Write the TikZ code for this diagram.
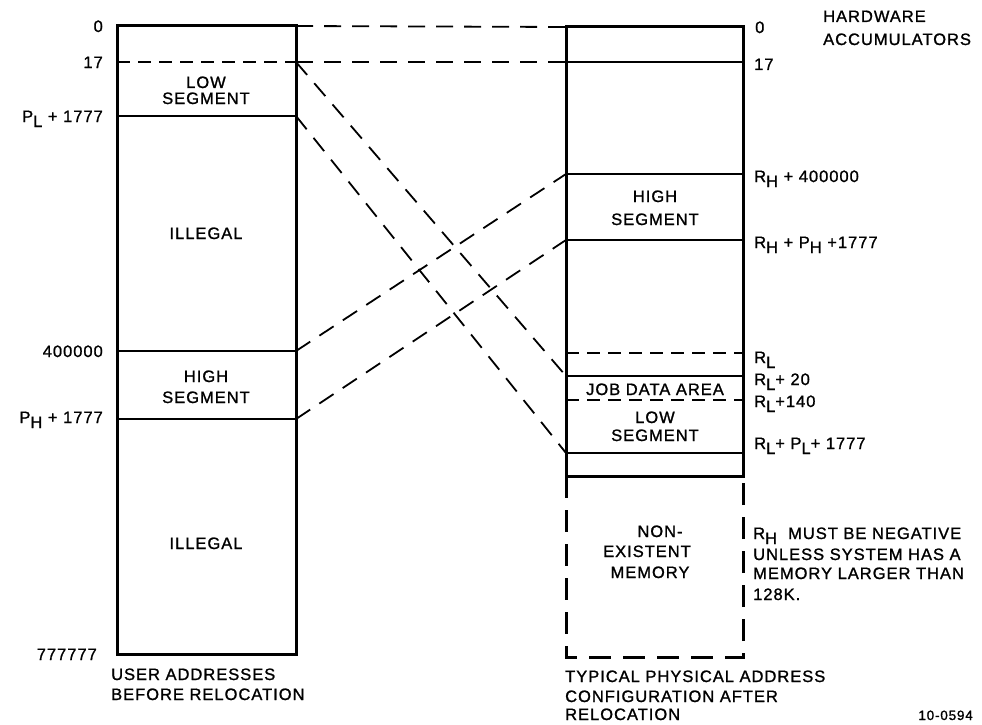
\documentclass[tikz,border=0pt]{standalone}
\usepackage{fontspec}
\setmainfont[LetterSpace=6, FakeBold=1.2]{Liberation Sans}
\newcommand\lowsub[1]{\raisebox{-5pt}{#1}}
\begin{document}
\begin{tikzpicture}[x=1pt,y=-1pt,
  box/.style={line width=3pt},
  sep/.style={line width=2.6pt},
  sepd/.style={line width=2.6pt, dash pattern=on 13pt off 8pt},
  dbox/.style={line width=3pt, dash pattern=on 22pt off 12pt},
  conn/.style={line width=1.8pt, dash pattern=on 17pt off 11pt},
  lbl/.style={inner sep=0pt, font=\fontsize{16.5}{18}\selectfont},
  lr/.style={lbl, anchor=base east},
  ll/.style={lbl, anchor=base west},
  lc/.style={lbl, anchor=base},
]
\useasboundingbox (0,0) rectangle (982,725);

% left column
\draw[box] (117,26) rectangle (296,654);
\draw[sepd] (117,62) -- (296,62);
\draw[sep] (117,116) -- (296,116);
\draw[sep] (117,351) -- (296,351);
\draw[sep] (117,419) -- (296,419);

% right column
\draw[box] (566,27) rectangle (743,476);
\draw[sep] (566,62) -- (743,62);
\draw[sep] (566,174) -- (743,174);
\draw[sep] (566,240) -- (743,240);
\draw[sepd] (566,353) -- (743,353);
\draw[sep] (566,376) -- (743,376);
\draw[sepd] (566,400) -- (743,400);
\draw[sep] (566,453) -- (743,453);
\draw[dbox] (566,476) -- (566,657) -- (743,657) -- (743,476);

% connector end points
\coordinate (l0) at (296,26);
\coordinate (l17) at (296,62);
\coordinate (lPL) at (296,116);
\coordinate (l400) at (296,351);
\coordinate (lPH) at (296,419);
\coordinate (r0) at (566,27);
\coordinate (r17) at (566,62);
\coordinate (rH4) at (566,174);
\coordinate (rHP) at (566,240);
\coordinate (rL20) at (566,376);
\coordinate (rLP) at (566,453);

\draw[conn] (l0) -- (r0);
\draw[conn] (l17) -- (r17);
\draw[conn] (l17) -- (rL20);
\draw[conn] (lPL) -- (rLP);
\draw[conn] (l400) -- (rH4);
\draw[conn] (lPH) -- (rHP);

% left address labels
\node[lr] (a1) at (103,32) {0};
\node[lr] (a2) at (103,68) {17};
\node[lr] (a3) at (103,122) {P\lowsub{L} + 1777};
\node[lr] (a4) at (103,357) {400000};
\node[lr] (a5) at (103,423) {P\lowsub{H} + 1777};
\node[lr] (a6) at (97,660) {777777};

% right address labels
\node[ll] (b1) at (755,33) {0};
\node[ll] (b2) at (754,70) {17};
\node[ll] (b3) at (754,182) {R\lowsub{H} + 400000};
\node[ll] (b4) at (754,248) {R\lowsub{H} + P\lowsub{H} +1777};
\node[ll] (b5) at (754,363) {R\lowsub{L}};
\node[ll] (b6) at (754,385) {R\lowsub{L}+ 20};
\node[ll] (b7) at (754,407) {R\lowsub{L}+140};
\node[ll] (b8) at (754,449) {R\lowsub{L}+ P\lowsub{L}+ 1777};
\node[ll] (hw1) at (823,22) {HARDWARE};
\node[ll] (hw2) at (823,45) {ACCUMULATORS};

% left inner texts
\node[lc] (c1) at (206,88) {LOW};
\node[lc] (c2) at (206,104) {SEGMENT};
\node[lc] (c3) at (206,239) {ILLEGAL};
\node[lc] (c4) at (206,382) {HIGH};
\node[lc] (c5) at (206,403) {SEGMENT};
\node[lc] (c6) at (206,549) {ILLEGAL};

% right inner texts
\node[lc] (d1) at (655,202) {HIGH};
\node[lc] (d2) at (655,225) {SEGMENT};
\node[lc] (d3) at (655,395) {JOB DATA AREA};
\node[lc] (d4) at (655,423) {LOW};
\node[lc] (d5) at (655,441) {SEGMENT};
\node[lc] (d6) at (660,537) {NON-};
\node[lc] (d7) at (647,557) {EXISTENT};
\node[lc] (d8) at (650,578) {MEMORY};

% note
\node[ll] (n1) at (753,539) {R\lowsub{H} \ MUST BE NEGATIVE};
\node[ll] (n2) at (753,560) {UNLESS SYSTEM HAS A};
\node[ll] (n3) at (753,579) {MEMORY LARGER THAN};
\node[ll] (n4) at (753,600) {128K.};

% captions
\node[ll] (e1) at (111,680) {USER ADDRESSES};
\node[ll] (e2) at (111,700) {BEFORE RELOCATION};
\node[ll] (f1) at (565,682) {TYPICAL PHYSICAL ADDRESS};
\node[ll] (f2) at (565,702) {CONFIGURATION AFTER};
\node[ll] (f3) at (565,720) {RELOCATION};
\node[lbl, anchor=base east, font=\fontsize{13.5}{15}\selectfont] (g1) at (973,720) {10-0594};
\end{tikzpicture}
\end{document}
